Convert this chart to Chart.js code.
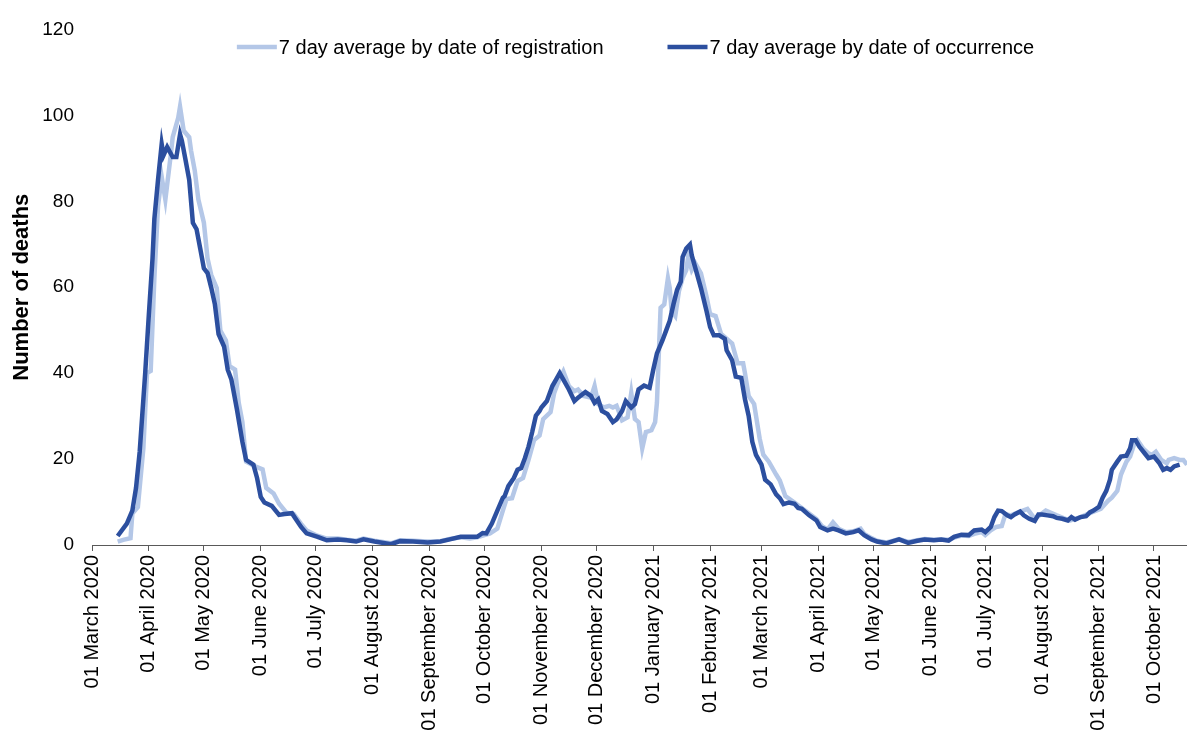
<!DOCTYPE html>
<html>
<head>
<meta charset="utf-8">
<script src="https://cdn.jsdelivr.net/npm/chart.js@4/dist/chart.umd.min.js"></script>
<style>
  body { margin: 0; background: #fff; }
  #wrap { width: 1187px; height: 736px; }
</style>
</head>
<body>
<div id="wrap"><canvas id="deaths" width="1187" height="736"></canvas></div>
<script>
// days counted from 01 March 2020
const tickDays = [0, 31, 61, 92, 122, 153, 184, 214, 245, 275, 306, 337, 365, 396, 426, 457, 487, 518, 549, 579];
const tickLabels = [
  "01 March 2020", "01 April 2020", "01 May 2020", "01 June 2020", "01 July 2020",
  "01 August 2020", "01 September 2020", "01 October 2020", "01 November 2020",
  "01 December 2020", "01 January 2021", "01 February 2021", "01 March 2021",
  "01 April 2021", "01 May 2021", "01 June 2021", "01 July 2021", "01 August 2021",
  "01 September 2021", "01 October 2021"
];
const yTicks = [0, 20, 40, 60, 80, 100, 120];

// 7 day average by date of registration
const regDays = [14, 17, 21, 22, 25, 28, 30, 32, 34, 36, 38, 40, 43, 44, 47, 48, 50, 53, 54, 56,
  58, 61, 63, 65, 68, 70, 73, 75, 78, 80, 82, 84, 89, 93, 95, 99, 102, 106, 110, 114,
  117, 122, 128, 134, 139, 144, 148, 154, 163, 168, 175, 183, 190, 195, 201, 206, 210, 217, 221, 224,
  226, 229, 232, 235, 238, 241, 244, 246, 250, 252, 254, 257, 260, 263, 265, 268, 272, 274, 276, 279,
  282, 284, 286, 289, 292, 294, 296, 298, 300, 302, 305, 307, 308, 310, 312, 314, 315, 316, 318, 320,
  322, 324, 325, 327, 329, 332, 335, 337, 340, 343, 346, 349, 352, 355, 356, 358, 361, 364, 366, 369,
  373, 375, 378, 383, 387, 391, 395, 398, 401, 404, 407, 411, 415, 419, 421, 425, 428, 433, 436, 440,
  445, 450, 454, 459, 463, 467, 470, 474, 478, 481, 485, 487, 490, 493, 496, 498, 501, 505, 510, 514,
  520, 526, 533, 539, 545, 550, 554, 556, 559, 561, 564, 566, 568, 570, 573, 576, 578, 580, 583, 586,
  587, 590, 593, 595, 597];
const regValues = [0.8, 1.2, 1.6, 7.3, 8.8, 22.5, 40, 40.5, 62.1, 78.9, 85.7, 80.4, 91, 94.9, 99.4, 102, 96.4, 94.9, 91.8, 87.2,
  80.4, 75, 66.7, 62.9, 59.8, 49.9, 47.6, 41.6, 40.8, 33.1, 28.6, 19.4, 18.3, 17.6, 13.3, 12.0, 9.6, 7.5, 7.2, 4.9,
  3.4, 2.3, 1.5, 1.5, 1.2, 1.0, 1.5, 1.0, 0.4, 1.1, 1.0, 0.8, 0.9, 1.4, 1.8, 1.5, 1.8, 2.7, 3.8, 8.0,
  10.7, 10.9, 14.9, 15.6, 19.8, 24.4, 25.5, 29.3, 30.9, 35.4, 37.7, 40.4, 37.0, 35.8, 36.2, 34.7, 34.3, 37.0, 32.8, 32.0,
  32.4, 32.0, 32.4, 29.0, 29.7, 35.4, 29.3, 28.6, 22.5, 26.3, 26.7, 28.6, 33.1, 55.2, 56, 62.1, 59.8, 54.5, 53.3, 59.1,
  62.1, 64, 67, 64, 65.5, 63.2, 57.9, 53.7, 53.3, 49.1, 48, 46.9, 42.3, 42.3, 40, 34.7, 32.8, 24.8, 21, 19.4,
  16.4, 15.0, 11.4, 9.9, 8.6, 7.3, 6.0, 4.4, 3.6, 5.3, 3.8, 3.0, 3.2, 3.8, 2.6, 1.6, 1.0, 0.6, 0.9, 1.4,
  0.7, 1.1, 1.4, 1.2, 1.3, 1.2, 1.7, 2.2, 2.1, 2.6, 3.0, 2.3, 3.4, 4.2, 4.4, 7.2, 6.9, 7.6, 8.4, 6.1,
  8.0, 6.9, 5.7, 6.5, 7.6, 8.4, 10.3, 11.0, 12.6, 16.4, 19.4, 20.6, 23.2, 24.4, 22.5, 21.3, 21, 21.7, 19.8, 19,
  19.8, 20.2, 19.8, 19.8, 18.7];

// 7 day average by date of occurrence
const occDays = [14, 19, 22, 24, 26, 29, 31, 33, 34, 36, 38, 39, 41, 44, 46, 48, 49, 51, 53, 55,
  57, 59, 61, 63, 65, 67, 69, 72, 74, 76, 79, 82, 84, 88, 90, 92, 94, 98, 102, 105,
  109, 111, 114, 117, 123, 128, 134, 139, 144, 148, 154, 163, 168, 175, 183, 190, 195, 201, 206, 210,
  213, 215, 218, 221, 224, 225, 227, 230, 232, 234, 236, 238, 240, 242, 244, 245, 248, 251, 253, 255,
  257, 260, 263, 265, 269, 272, 274, 276, 278, 281, 284, 286, 289, 291, 294, 296, 298, 301, 304, 306,
  308, 311, 313, 315, 317, 319, 321, 322, 324, 326, 327, 329, 332, 335, 337, 339, 342, 345, 346, 349,
  351, 354, 356, 358, 360, 362, 365, 367, 370, 373, 375, 377, 380, 383, 385, 387, 391, 395, 397, 401,
  404, 407, 411, 415, 418, 421, 425, 428, 433, 436, 440, 445, 450, 454, 459, 463, 467, 470, 474, 478,
  481, 485, 487, 490, 492, 494, 496, 499, 501, 503, 506, 508, 511, 514, 516, 518, 521, 524, 526, 529,
  532, 534, 536, 539, 542, 544, 546, 549, 551, 553, 555, 556, 559, 561, 564, 566, 567, 569, 571, 574,
  576, 579, 582, 584, 586, 588, 590, 593];
const occValues = [2.1, 5.0, 8.0, 13.3, 21.7, 40, 53.7, 66.7, 75.9, 85, 93.3, 90.7, 92.6, 90.3, 90.3, 95.6, 94.1, 89.6, 85, 75,
  73.5, 69, 64.4, 63.3, 59.9, 56, 49.1, 46.2, 40.8, 38.5, 31.6, 24, 19.8, 18.7, 15.6, 11.2, 9.9, 9.1, 7.0, 7.2,
  7.4, 6.1, 4.2, 2.7, 1.9, 1.1, 1.3, 1.1, 0.8, 1.3, 0.8, 0.2, 0.9, 0.8, 0.6, 0.8, 1.3, 1.9, 1.9, 1.9,
  2.8, 2.7, 5.0, 8.0, 11.0, 11.4, 13.7, 15.6, 17.5, 17.9, 20.2, 22.9, 26.3, 30.1, 31.2, 32.0, 33.5, 37.0, 38.5, 40.0,
  38.5, 36.2, 33.5, 34.3, 35.6, 34.7, 33.1, 33.9, 31.2, 30.5, 28.6, 29.2, 31.2, 33.5, 32.0, 32.8, 36.2, 37.1, 36.6, 40.8,
  44.6, 47.6, 49.9, 52.2, 56, 59.4, 61.3, 67, 69, 69.9, 67.4, 64.4, 59.8, 54.5, 50.7, 48.8, 48.8, 48, 45.3, 43.0,
  39.2, 38.9, 33.9, 30.1, 24, 21, 18.7, 15.2, 14.1, 11.8, 10.9, 9.5, 9.9, 9.6, 8.6, 8.4, 6.9, 5.7, 4.2, 3.4,
  3.8, 3.4, 2.7, 3.0, 3.4, 2.3, 1.3, 0.8, 0.4, 0.8, 1.3, 0.5, 1.0, 1.3, 1.1, 1.3, 1.0, 1.9, 2.4, 2.3,
  3.4, 3.6, 3.0, 4.2, 6.5, 8.0, 7.9, 6.9, 6.5, 7.1, 7.8, 6.9, 6.1, 5.6, 7.1, 7.1, 6.9, 6.7, 6.3, 6.1,
  5.7, 6.5, 5.9, 6.5, 6.7, 7.6, 8.0, 8.9, 11.0, 12.6, 15.2, 17.5, 19.4, 20.6, 20.8, 22.5, 24.4, 24.4, 22.9, 21.3,
  20.2, 20.6, 19.0, 17.5, 17.9, 17.5, 18.3, 18.7];

const FONT = "'Liberation Sans', Arial, sans-serif";
const LIGHT = "#b4c7e7";
const DARK = "#2c4f9f";

const toPoints = (days, vals) => days.map((d, i) => ({ x: d, y: vals[i] }));

// legend sits inside the plot area, so draw it ourselves
const insideLegend = {
  id: "insideLegend",
  afterDraw(chart) {
    const { ctx, chartArea } = chart;
    const sets = chart.data.datasets;
    const lineLen = 40, gap = 2, between = 64;
    ctx.save();
    ctx.font = "20px " + FONT;
    const widths = sets.map((s) => ctx.measureText(s.label).width);
    let total = 0;
    widths.forEach((w, i) => { total += lineLen + gap + w + (i ? between : 0); });
    let x = (chartArea.left + chartArea.right) / 2 - total / 2 - 4;
    const y = 47;
    sets.forEach((s, i) => {
      ctx.strokeStyle = s.borderColor;
      ctx.lineWidth = 4.5;
      ctx.beginPath();
      ctx.moveTo(x, y);
      ctx.lineTo(x + lineLen, y);
      ctx.stroke();
      ctx.fillStyle = "#000";
      ctx.textBaseline = "middle";
      ctx.fillText(s.label, x + lineLen + gap, y + 1);
      x += lineLen + gap + widths[i] + between;
    });
    ctx.restore();
  },
};

new Chart(document.getElementById("deaths"), {
  type: "line",
  data: {
    datasets: [
      {
        label: "7 day average by date of registration",
        data: toPoints(regDays, regValues),
        borderColor: LIGHT,
        backgroundColor: LIGHT,
        borderWidth: 4.5,
        pointRadius: 0,
        tension: 0,
        order: 2,
      },
      {
        label: "7 day average by date of occurrence",
        data: toPoints(occDays, occValues),
        borderColor: DARK,
        backgroundColor: DARK,
        borderWidth: 4.5,
        pointRadius: 0,
        tension: 0,
        order: 1,
      },
    ],
  },
  options: {
    responsive: false,
    animation: false,
    layout: { padding: { top: 20, right: 0, left: 0, bottom: 0 } },
    plugins: {
      legend: { display: false },
      tooltip: { enabled: false },
    },
    scales: {
      x: {
        type: "linear",
        min: 0,
        max: 597,
        afterBuildTicks: (scale) => {
          scale.ticks = tickDays.map((v) => ({ value: v }));
        },
        afterFit: (scale) => { scale.height = 191; },
        ticks: {
          autoSkip: false,
          maxRotation: 90,
          minRotation: 90,
          padding: 4,
          color: "#000",
          font: { family: FONT, size: 20 },
          callback: (v) => tickLabels[tickDays.indexOf(v)],
        },
        grid: {
          drawOnChartArea: false,
          drawTicks: true,
          tickLength: 6,
          color: "#595959",
        },
        border: { display: true, color: "#595959", width: 1 },
      },
      y: {
        min: 0,
        max: 120,
        afterBuildTicks: (scale) => {
          scale.ticks = yTicks.map((v) => ({ value: v }));
        },
        afterFit: (scale) => { scale.width = 92; },
        ticks: {
          padding: 18,
          color: "#000",
          font: { family: FONT, size: 19 },
        },
        grid: { display: false, drawTicks: false },
        border: { display: false },
        title: {
          display: true,
          text: "Number of deaths",
          color: "#000",
          padding: { top: 9, bottom: 0 },
          font: { family: FONT, size: 22, weight: "bold" },
        },
      },
    },
  },
  plugins: [insideLegend],
});
</script>
</body>
</html>
